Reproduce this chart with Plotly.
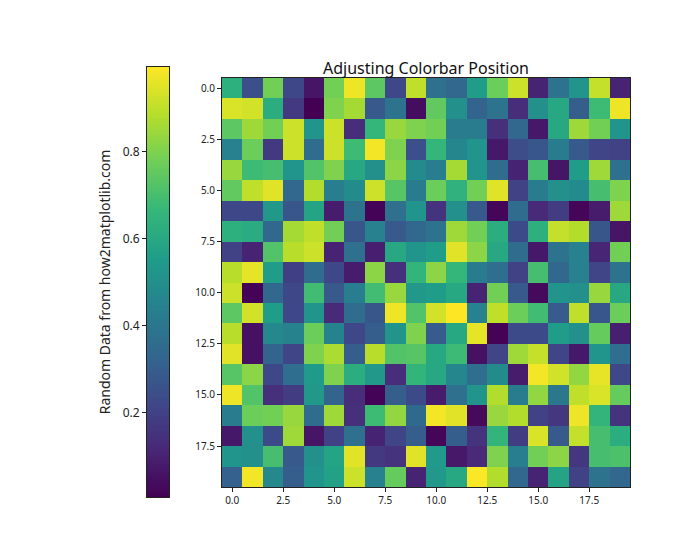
import numpy as np
import plotly.graph_objects as go

# 20x20 grid values (rows top to bottom)
row_labels = list(range(20))
col_labels = list(range(20))
values = [
    [0.63, 0.25, 0.78, 0.22, 0.06, 0.78, 0.97, 0.74, 0.22, 0.90, 0.37, 0.33, 0.55, 0.77, 0.92, 0.10, 0.38, 0.52, 0.91, 0.10],
    [0.94, 0.93, 0.62, 0.17, 0.005, 0.80, 0.86, 0.28, 0.38, 0.04, 0.75, 0.50, 0.32, 0.38, 0.13, 0.50, 0.60, 0.30, 0.68, 0.97],
    [0.74, 0.85, 0.78, 0.92, 0.52, 0.92, 0.13, 0.66, 0.84, 0.80, 0.78, 0.42, 0.42, 0.14, 0.33, 0.07, 0.60, 0.85, 0.78, 0.52],
    [0.44, 0.77, 0.17, 0.92, 0.35, 0.92, 0.68, 0.98, 0.80, 0.25, 0.66, 0.46, 0.52, 0.07, 0.24, 0.27, 0.42, 0.28, 0.21, 0.20],
    [0.84, 0.68, 0.70, 0.52, 0.72, 0.80, 0.60, 0.50, 0.82, 0.48, 0.43, 0.86, 0.52, 0.35, 0.10, 0.70, 0.06, 0.55, 0.85, 0.37],
    [0.75, 0.90, 0.95, 0.33, 0.88, 0.43, 0.48, 0.92, 0.73, 0.42, 0.77, 0.64, 0.78, 0.95, 0.20, 0.42, 0.50, 0.48, 0.70, 0.80],
    [0.22, 0.22, 0.53, 0.27, 0.58, 0.08, 0.38, 0.01, 0.37, 0.52, 0.15, 0.50, 0.28, 0.02, 0.35, 0.12, 0.18, 0.02, 0.08, 0.85],
    [0.63, 0.61, 0.33, 0.86, 0.90, 0.78, 0.27, 0.44, 0.28, 0.33, 0.38, 0.85, 0.78, 0.62, 0.23, 0.63, 0.91, 0.88, 0.27, 0.06],
    [0.20, 0.10, 0.72, 0.89, 0.92, 0.10, 0.37, 0.09, 0.60, 0.52, 0.55, 0.95, 0.82, 0.60, 0.35, 0.07, 0.38, 0.44, 0.11, 0.78],
    [0.89, 0.96, 0.55, 0.19, 0.35, 0.22, 0.08, 0.82, 0.14, 0.65, 0.82, 0.66, 0.42, 0.36, 0.20, 0.70, 0.33, 0.44, 0.21, 0.38],
    [0.92, 0.01, 0.33, 0.22, 0.69, 0.28, 0.43, 0.69, 0.84, 0.53, 0.55, 0.60, 0.10, 0.78, 0.28, 0.03, 0.52, 0.50, 0.84, 0.60],
    [0.74, 0.93, 0.55, 0.22, 0.52, 0.12, 0.35, 0.27, 0.97, 0.72, 0.93, 0.995, 0.44, 0.90, 0.77, 0.69, 0.29, 0.90, 0.27, 0.77],
    [0.89, 0.05, 0.47, 0.45, 0.77, 0.45, 0.22, 0.30, 0.52, 0.80, 0.29, 0.60, 0.96, 0.01, 0.23, 0.23, 0.55, 0.50, 0.76, 0.09],
    [0.95, 0.05, 0.32, 0.21, 0.80, 0.87, 0.30, 0.89, 0.72, 0.73, 0.60, 0.68, 0.05, 0.21, 0.85, 0.91, 0.21, 0.07, 0.52, 0.36],
    [0.73, 0.82, 0.22, 0.36, 0.54, 0.80, 0.62, 0.53, 0.13, 0.65, 0.60, 0.46, 0.36, 0.48, 0.08, 0.98, 0.93, 0.83, 0.96, 0.22],
    [0.97, 0.72, 0.14, 0.18, 0.53, 0.32, 0.13, 0.01, 0.30, 0.23, 0.08, 0.37, 0.52, 0.88, 0.42, 0.83, 0.40, 0.90, 0.94, 0.76],
    [0.42, 0.77, 0.78, 0.84, 0.35, 0.85, 0.14, 0.68, 0.83, 0.34, 0.98, 0.95, 0.03, 0.84, 0.88, 0.20, 0.16, 0.97, 0.65, 0.15],
    [0.07, 0.50, 0.23, 0.85, 0.06, 0.20, 0.37, 0.10, 0.21, 0.30, 0.02, 0.30, 0.15, 0.65, 0.18, 0.94, 0.28, 0.91, 0.70, 0.62],
    [0.52, 0.50, 0.70, 0.28, 0.50, 0.58, 0.95, 0.17, 0.15, 0.95, 0.54, 0.07, 0.12, 0.80, 0.43, 0.78, 0.82, 0.16, 0.70, 0.71],
    [0.31, 0.98, 0.47, 0.30, 0.52, 0.57, 0.92, 0.44, 0.76, 0.10, 0.53, 0.60, 0.99, 0.88, 0.33, 0.10, 0.58, 0.20, 0.38, 0.33],
]
axis_ticks = [0, 2.5, 5, 7.5, 10, 12.5, 15, 17.5]
axis_ticktext = ["0.0", "2.5", "5.0", "7.5", "10.0", "12.5", "15.0", "17.5"]
cbar_ticks = [0.2, 0.4, 0.6, 0.8]
cbar_ticktext = ["0.2", "0.4", "0.6", "0.8"]
cbar_label = "Random Data from how2matplotlib.com"
title_text = "Adjusting Colorbar Position"

W, H = 700, 560
z = np.array(values)
zmin, zmax = float(z.min()), float(z.max())

def px_x(a, b):
    return [a / W, b / W]

def px_y(top, bottom):
    return [(H - bottom) / H, (H - top) / H]

fig = go.Figure()
fig.add_trace(go.Heatmap(
    z=values, x=col_labels, y=row_labels,
    colorscale="Viridis", zmin=zmin, zmax=zmax, showscale=False,
    xaxis="x", yaxis="y",
))

# colorbar drawn as a gradient strip on its own axes (labels on the left)
grad = np.linspace(zmin, zmax, 300)
fig.add_trace(go.Heatmap(
    z=[[g] for g in grad], x=[0], y=grad,
    colorscale="Viridis", zmin=zmin, zmax=zmax, showscale=False,
    xaxis="x2", yaxis="y2", hoverinfo="skip",
))

tickfont = dict(family="Noto Sans", size=10, color="#222")
fig.update_layout(
    width=W, height=H,
    margin=dict(l=0, r=0, t=0, b=0),
    paper_bgcolor="white", plot_bgcolor="white",
    xaxis=dict(domain=px_x(222, 630), range=[-0.5, 19.5],
               tickvals=axis_ticks, ticktext=axis_ticktext,
               ticks="outside", ticklen=4, tickcolor="#222",
               showline=True, linecolor="#222", mirror=True,
               showgrid=False, zeroline=False, tickfont=tickfont,
               anchor="y"),
    yaxis=dict(domain=px_y(78, 487), range=[19.5, -0.5],
               tickvals=axis_ticks, ticktext=axis_ticktext,
               ticks="outside", ticklen=4, tickcolor="#222",
               showline=True, linecolor="#222", mirror=True,
               showgrid=False, zeroline=False, tickfont=tickfont,
               anchor="x"),
    xaxis2=dict(domain=px_x(147, 169), range=[-0.5, 0.5],
                showticklabels=False, ticks="", showline=True,
                linecolor="#222", mirror=True, showgrid=False,
                zeroline=False, anchor="y2"),
    yaxis2=dict(domain=px_y(67, 497), range=[zmin, zmax],
                side="left", tickvals=cbar_ticks, ticktext=cbar_ticktext,
                ticks="outside", ticklen=4, tickcolor="#222",
                showline=True, linecolor="#222", mirror=True,
                showgrid=False, zeroline=False,
                tickfont=dict(family="Noto Sans", size=12, color="#222"),
                title=dict(text=cbar_label, standoff=8,
                           font=dict(family="Noto Sans", size=14, color="#222")),
                anchor="x2"),
    annotations=[dict(text=title_text, x=426 / W, y=(H - 68) / H,
                      xref="paper", yref="paper", showarrow=False,
                      xanchor="center", yanchor="middle",
                      font=dict(family="Noto Sans", size=16, color="#111"))],
)

fig.write_html("out.html")
